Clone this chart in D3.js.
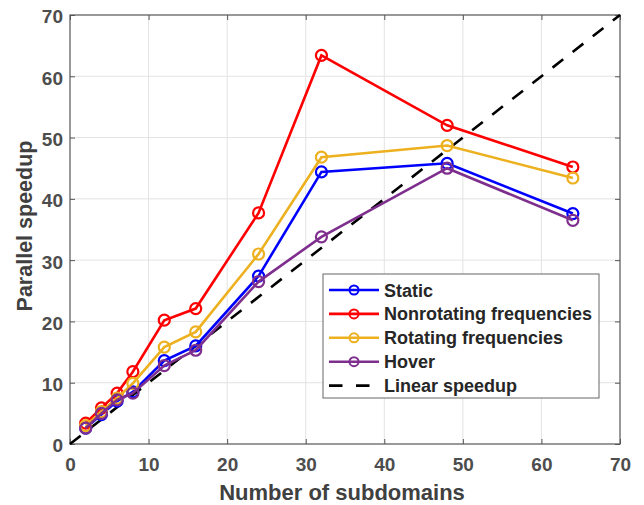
<!doctype html>
<html>
<head>
<meta charset="utf-8">
<script src="https://cdnjs.cloudflare.com/ajax/libs/d3/7.8.5/d3.min.js"></script>
<style>
  body { margin: 0; background: white; }
  svg { background: white; font-family: "Liberation Sans", Arial, sans-serif; }
</style>
</head>
<body>
<svg id="chart" width="644" height="505"></svg>
<script>
// subdomain counts
const subdomains = [2, 4, 6, 8, 12, 16, 24, 32, 48, 64];
const staticVals = [2.6, 4.8, 7.0, 8.5, 13.6, 16.0, 27.4, 44.4, 45.8, 37.6];
const nonrotVals = [3.4, 5.9, 8.3, 11.8, 20.2, 22.1, 37.7, 63.4, 52.0, 45.2];
const rotVals = [3.0, 5.3, 7.5, 9.9, 15.8, 18.3, 31.0, 46.8, 48.7, 43.4];
const hoverVals = [2.6, 5.0, 7.2, 8.3, 12.8, 15.3, 26.5, 33.8, 45.0, 36.5];
const linearX = [0, 70];
const tickVals = [0, 10, 20, 30, 40, 50, 60, 70];
const seriesNames = ["Static", "Nonrotating frequencies", "Rotating frequencies", "Hover", "Linear speedup"];

const series = [
  { name: seriesNames[0], vals: staticVals, color: "#0000ff" },
  { name: seriesNames[1], vals: nonrotVals, color: "#ff0000" },
  { name: seriesNames[2], vals: rotVals, color: "#edb120" },
  { name: seriesNames[3], vals: hoverVals, color: "#7e2f8e" }
];

const svg = d3.select("#chart");
const pL = 70, pR = 620, pT = 15, pB = 444;
const x = d3.scaleLinear().domain([0, 70]).range([pL, pR]);
const y = d3.scaleLinear().domain([0, 70]).range([pB, pT]);

// grid
svg.append("g").selectAll("line").data(tickVals.slice(1, -1)).enter().append("line")
  .attr("x1", d => x(d)).attr("x2", d => x(d)).attr("y1", pT).attr("y2", pB)
  .style("stroke", "#e3e3e3").style("stroke-width", 1);
svg.append("g").selectAll("line").data(tickVals.slice(1, -1)).enter().append("line")
  .attr("y1", d => y(d)).attr("y2", d => y(d)).attr("x1", pL).attr("x2", pR)
  .style("stroke", "#e3e3e3").style("stroke-width", 1);

// axes (ticks inward, box on)
const axColor = "#555555";
function styleAxis(g) {
  g.select(".domain").remove();
  g.selectAll(".tick line").style("stroke", axColor).style("stroke-width", 1);
  g.selectAll("text").style("fill", "#4d4d4d").style("font-size", "19px").style("font-weight", "bold");
}
svg.append("g").attr("transform", `translate(0,${pB})`)
  .call(d3.axisBottom(x).tickValues(tickVals).tickSizeInner(-5).tickPadding(14))
  .call(styleAxis);
svg.append("g").attr("transform", `translate(${pL},0)`)
  .call(d3.axisLeft(y).tickValues(tickVals).tickSizeInner(-5).tickPadding(7))
  .call(styleAxis)
  .selectAll("text").attr("dy", "0.42em");
svg.append("g").attr("transform", `translate(0,${pT})`)
  .call(d3.axisTop(x).tickValues(tickVals).tickSizeInner(-5).tickFormat(""))
  .call(styleAxis);
svg.append("g").attr("transform", `translate(${pR},0)`)
  .call(d3.axisRight(y).tickValues(tickVals).tickSizeInner(-5).tickFormat(""))
  .call(styleAxis);
svg.append("rect").attr("x", pL).attr("y", pT).attr("width", pR - pL).attr("height", pB - pT)
  .style("fill", "none").style("stroke", axColor).style("stroke-width", 1.2);

// linear speedup
svg.append("path")
  .attr("d", d3.line().x(d => x(d)).y(d => y(d))(linearX))
  .style("fill", "none").style("stroke", "#000").style("stroke-width", 2.6)
  .style("stroke-dasharray", "13.5,12");

// series
const line = d3.line().x((d, i) => x(subdomains[i])).y(d => y(d));
series.forEach(s => {
  svg.append("path").attr("d", line(s.vals))
    .style("fill", "none").style("stroke", s.color).style("stroke-width", 2.6);
  svg.append("g").selectAll("circle").data(s.vals).enter().append("circle")
    .attr("cx", (d, i) => x(subdomains[i])).attr("cy", d => y(d)).attr("r", 5.5)
    .style("fill", "none").style("stroke", s.color).style("stroke-width", 2.2);
});

// axis labels
svg.append("text").attr("x", 342).attr("y", 500).attr("text-anchor", "middle")
  .style("font-size", "22px").style("font-weight", "bold").style("fill", "#404040")
  .text("Number of subdomains");
svg.append("text").attr("transform", "translate(32,226) rotate(-90)")
  .attr("text-anchor", "middle")
  .style("font-size", "21.5px").style("font-weight", "bold").style("fill", "#404040")
  .text("Parallel speedup");

// legend
const lg = svg.append("g").attr("transform", "translate(323,274)");
lg.append("rect").attr("width", 276).attr("height", 124)
  .style("fill", "white").style("stroke", "#666").style("stroke-width", 1);
const legendItems = series.concat([{ name: seriesNames[4], color: "#000", dashed: true }]);
legendItems.forEach((s, i) => {
  const yy = 16 + i * 23.9;
  if (s.dashed) {
    lg.append("line").attr("x1", 6).attr("x2", 47).attr("y1", yy).attr("y2", yy)
      .style("stroke", s.color).style("stroke-width", 2.6).style("stroke-dasharray", "13.5,13.5");
  } else {
    lg.append("line").attr("x1", 6).attr("x2", 56).attr("y1", yy).attr("y2", yy)
      .style("stroke", s.color).style("stroke-width", 2.6);
    lg.append("circle").attr("cx", 31).attr("cy", yy).attr("r", 4.5)
      .style("fill", "none").style("stroke", s.color).style("stroke-width", 2);
  }
  lg.append("text").attr("x", 61).attr("y", yy + 6.5)
    .style("font-size", "18px").style("font-weight", "bold").style("fill", "#262626")
    .text(s.name);
});
</script>
</body>
</html>
